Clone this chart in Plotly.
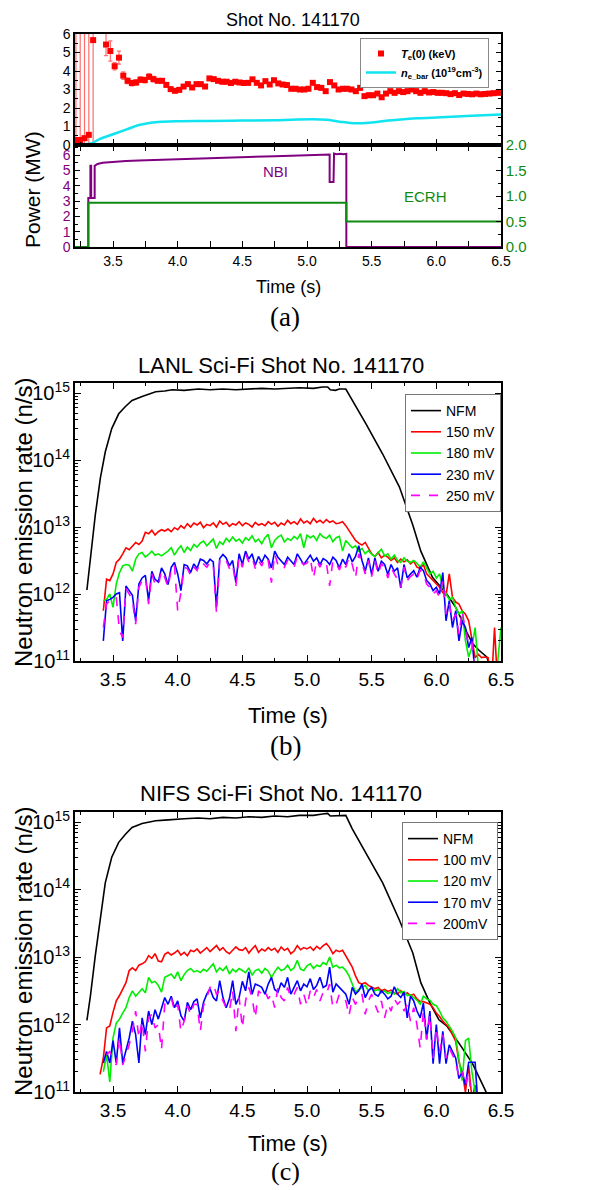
import plotly.graph_objects as go

W, H = 615, 1190
FONT = "Liberation Sans, Arial, sans-serif"
SERIF = "Liberation Serif, Times New Roman, serif"

# ---------------- panel (a) data ----------------
TE_T0, TE_DT = 3.213, 0.0333
te_vals = [0.27, 0.27, 0.37, 0.55, 5.67, None, None, 5.43, 5.08, 4.26,
           4.72, 3.75, 3.47, 3.35, 3.38, 3.53, 3.51, 3.69, 3.56, 3.47,
           3.47, 3.25, 3.02, 2.93, 2.98, 3.16, 3.29, 3.11, 3.29, 3.29,
           3.16, 3.60, 3.56, 3.47, 3.42, 3.42, 3.35, 3.42, 3.38, 3.35,
           3.36, 3.55, 3.36, 3.22, 3.45, 3.27, 3.50, 3.33, 3.27, 3.24,
           3.04, 3.04, 3.00, 3.00, 3.04, 3.36, 3.13, 3.09, 2.91, 3.40,
           3.22, 3.00, 3.04, 3.04, 3.00, 2.91, 3.09, 2.64, 2.69, 2.69,
           2.78, 2.58, 2.78, 2.91, 2.82, 2.91, 2.86, 2.91, 3.00, 2.91,
           2.82, 2.91, 2.84, 2.86, 2.82, 2.82, 2.80, 2.75, 2.80, 2.70,
           2.78, 2.76, 2.74, 2.78, 2.74, 2.76, 2.78, 2.80, 2.82]
te_err = ([10, 10, 10, 10, 10, 0, 0, 0.6, 0.55, 0.2, 0.35, 0.2]
          + [0.15] * 7 + [0.1] * 80)
te_t = [round(TE_T0 + TE_DT * i, 4) for i in range(len(te_vals))]

ne_t = [3.206, 3.30, 3.33, 3.40, 3.50, 3.60, 3.70, 3.77, 3.85, 3.98, 4.25, 4.50,
        4.75, 5.05, 5.15, 5.25, 5.38, 5.50, 5.60, 5.75, 5.85, 6.00, 6.23, 6.50]
ne_v = [0.04, 0.05, 0.08, 0.33, 0.58, 0.83, 1.08, 1.18, 1.24, 1.28, 1.30, 1.32,
        1.34, 1.39, 1.36, 1.26, 1.17, 1.22, 1.30, 1.39, 1.44, 1.48, 1.57, 1.65]

nbi_t = [3.206, 3.309, 3.309, 3.325, 3.325, 3.331, 3.331, 3.358, 3.358, 3.38, 3.42,
         3.50, 3.60, 3.70, 3.80, 4.00, 4.25, 4.50, 4.75, 5.00, 5.10, 5.175, 5.175,
         5.205, 5.209, 5.23, 5.26, 5.28, 5.304, 5.304, 6.50]
nbi_p = [0, 0, 3.2, 3.2, 5.3, 5.3, 3.2, 3.2, 5.3, 5.42, 5.5,
         5.56, 5.62, 5.65, 5.68, 5.72, 5.79, 5.86, 5.93, 5.99, 6.02, 6.04, 4.25,
         4.25, 6.1, 6.06, 6.09, 6.05, 6.08, 0, 0]

ecrh_t = [3.206, 3.309, 3.309, 5.304, 5.304, 6.50]
ecrh_p = [0, 0, 0.87, 0.87, 0.5, 0.5]

# ---------------- neutron data (log10 of n/s) ----------------
N_T0, N_DT, N_N = 3.400, 0.025, 125
n_t = [round(N_T0 + N_DT * i, 3) for i in range(N_N)]

# NFM, LANL panel
nfm_b_t = [3.298, 3.325, 3.363, 3.402, 3.44, 3.49, 3.544, 3.596, 3.647, 3.725, 3.83,
           3.90, 3.957, 4.05, 4.16, 4.25, 4.35, 4.45, 4.55, 4.65, 4.75, 4.85, 4.94,
           5.05, 5.12, 5.16, 5.18, 5.22, 5.25, 5.30, 5.35, 5.456, 5.585, 5.714,
           5.818, 5.88, 5.97, 6.08, 6.15, 6.20, 6.23, 6.28, 6.33, 6.39, 6.42]
nfm_b_v = [12.06, 12.54, 13.18, 13.73, 14.12, 14.47, 14.69, 14.80, 14.89, 14.95, 15.02,
           15.03, 15.05, 15.04, 15.06, 15.05, 15.06, 15.05, 15.06, 15.07, 15.06, 15.07, 15.08,
           15.07, 15.09, 15.09, 15.05, 15.04, 15.06, 15.06, 14.90, 14.54, 14.09, 13.60,
           13.03, 12.64, 12.25, 12.00, 11.80, 11.60, 11.45, 11.26, 11.16, 11.06, 10.90]

lanl_150 = [None, 11.75, 12.22, 12.20, 12.30, 12.47, 12.52, 12.60, 12.69, 12.66,
            12.72, 12.77, 12.74, 12.79, 12.92, 12.90, 12.95, 12.88, 12.93, 12.96,
            12.94, 12.97, 12.93, 12.99, 12.96, 13.02, 12.98, 13.05, 13.00, 13.06,
            13.03, 13.07, 12.99, 13.04, 13.02, 13.06, 13.00, 13.09, 13.04, 13.07,
            13.01, 13.05, 13.03, 13.08, 13.02, 13.06, 13.04, 13.00, 13.07, 13.03,
            13.05, 13.02, 13.08, 13.04, 13.07, 13.01, 13.06, 13.03, 13.10, 13.05,
            13.08, 13.04, 13.12, 13.06, 13.09, 13.05, 13.13, 13.07, 13.10, 13.06,
            13.11, 13.07, 13.09, 13.05, 13.06, 13.08, 13.02, 12.95, 12.87, 12.80,
            12.76, 12.73, 12.77, 12.68, 12.60, 12.56, 12.62, 12.54, 12.58, 12.55,
            12.50, 12.54, 12.47, 12.52, 12.48, 12.51, 12.45, 12.49, 12.40, 12.38,
            12.44, 12.30, 12.25, 12.20, 12.14, 12.10, 12.02, 11.98, 12.30, 11.95,
            11.88, 11.85, 11.75, 11.70, 11.60, 11.30, 11.05, 11.10, 11.05, 11.06,
            11.05, 10.60, 11.50, 10.60, None]
lanl_180 = [None, 11.90, 11.92, 12.00, 11.80, 12.15, 12.32, 12.42, 12.44, 12.43,
            12.34, 12.52, 12.60, 12.62, 12.55, 12.59, 12.64, 12.58, 12.60, 12.57,
            12.60, 12.64, 12.69, 12.58, 12.66, 12.72, 12.62, 12.70, 12.65, 12.74,
            12.70, 12.76, 12.79, 12.72, 12.77, 12.82, 12.68, 12.78, 12.74, 12.83,
            12.78, 12.85, 12.79, 12.82, 12.76, 12.84, 12.80, 12.87, 12.78, 12.82,
            12.75, 12.84, 12.89, 12.69, 12.80, 12.85, 12.88, 12.78, 12.83, 12.80,
            12.86, 12.82, 12.90, 12.69, 12.88, 12.84, 12.87, 12.80, 12.90, 12.85,
            12.83, 12.88, 12.78, 12.84, 12.86, 12.64, 12.80, 12.74, 12.69, 12.72,
            12.64, 12.68, 12.60, 12.65, 12.59, 12.56, 12.62, 12.67, 12.57, 12.60,
            12.52, 12.58, 12.50, 12.47, 12.54, 12.49, 12.47, 12.50, 12.46, 12.40,
            12.48, 12.38, 12.30, 12.34, 12.24, 12.30, 12.10, 12.00, 11.92, 11.95,
            11.80, 11.70, 11.75, 11.30, 11.06, 11.20, 11.50, 10.90, 10.60, 10.60,
            10.60, 10.60, 10.60, 11.00, 11.50]
lanl_230 = [None, 11.30, 11.90, 11.92, 11.95, 12.00, 12.02, 11.30, 12.12, 12.05,
            11.98, 11.60, 12.15, 12.24, 12.28, 11.90, 12.34, 12.22, 12.18, 12.39,
            12.30, 12.14, 12.40, 12.47, 12.30, 12.05, 12.44, 12.42, 12.32, 12.45,
            12.38, 12.52, 12.50, 12.45, 12.52, 12.48, 11.80, 12.53, 12.59, 12.54,
            12.42, 12.50, 12.17, 12.60, 12.44, 12.64, 12.52, 12.60, 12.43, 12.56,
            12.47, 12.58, 12.52, 12.39, 12.64, 12.55, 12.50, 12.44, 12.55, 12.49,
            12.44, 12.60, 12.52, 12.44, 12.51, 12.58, 12.49, 12.54, 12.44, 12.53,
            12.50, 12.44, 12.55, 12.50, 12.39, 12.52, 12.44, 12.60, 12.48, 12.56,
            12.72, 12.50, 12.34, 12.54, 12.29, 12.54, 12.34, 12.49, 12.44, 12.29,
            12.44, 12.34, 12.39, 12.09, 12.44, 12.24, 12.30, 12.35, 12.25, 12.40,
            12.35, 12.20, 12.15, 12.05, 12.10, 12.00, 12.32, 11.60, 11.90, 11.50,
            11.75, 11.30, 11.60, 11.50, 11.20, 11.35, 10.80, 10.60, None, None,
            None, None, None, None, None]
lanl_250 = [None, 11.50, 11.85, 11.90, 11.90, 11.95, 11.45, 11.35, 12.08, 12.00,
            11.90, 11.55, 12.10, 12.20, 12.25, 11.85, 12.30, 12.15, 12.12, 12.35,
            12.25, 12.10, 12.36, 12.43, 11.75, 12.02, 12.40, 12.38, 12.28, 12.40,
            12.35, 12.48, 12.45, 12.40, 12.48, 12.44, 11.72, 12.50, 12.55, 12.50,
            12.38, 12.45, 12.12, 12.55, 12.40, 12.60, 12.48, 12.55, 12.38, 12.50,
            12.42, 12.55, 12.50, 12.17, 12.60, 12.44, 12.47, 12.40, 12.50, 12.45,
            12.40, 12.56, 12.48, 12.44, 12.46, 12.54, 12.24, 12.50, 12.40, 12.50,
            12.46, 12.12, 12.50, 12.46, 12.36, 12.48, 12.40, 12.55, 12.44, 12.24,
            12.60, 12.46, 12.30, 12.50, 12.26, 12.50, 12.30, 12.45, 12.40, 12.24,
            12.40, 12.30, 12.22, 12.10, 12.40, 12.20, 12.26, 12.30, 12.22, 12.36,
            12.30, 12.15, 12.10, 12.00, 12.05, 11.95, 12.20, 11.70, 11.85, 11.60,
            11.70, 11.40, 11.75, 11.45, 11.25, 11.30, 10.80, 10.60, None, None,
            None, None, None, None, None]

# NFM, NIFS panel
nfm_c_t = [3.298, 3.325, 3.363, 3.402, 3.44, 3.49, 3.544, 3.596, 3.647, 3.725, 3.83,
           3.90, 3.957, 4.05, 4.16, 4.25, 4.35, 4.45, 4.55, 4.65, 4.75, 4.85, 4.94,
           5.05, 5.12, 5.16, 5.18, 5.22, 5.25, 5.30, 5.35, 5.456, 5.585, 5.714,
           5.818, 5.88, 5.95, 6.02, 6.08, 6.18, 6.23, 6.28, 6.33, 6.36, 6.39, 6.41]
nfm_c_v = [12.06, 12.42, 13.02, 13.60, 14.10, 14.48, 14.70, 14.82, 14.92, 14.98, 15.02,
           15.03, 15.04, 15.05, 15.06, 15.05, 15.07, 15.06, 15.08, 15.07, 15.09, 15.08, 15.10,
           15.10, 15.12, 15.13, 15.09, 15.09, 15.10, 15.10, 14.90, 14.54, 14.10, 13.55,
           13.06, 12.62, 12.32, 12.07, 11.98, 11.71, 11.57, 11.42, 11.22, 11.10, 11.00, 10.90]

nifs_100 = [11.26, 11.50, 11.95, 11.98, 12.18, 12.35, 12.43, 12.52, 12.62, 12.80,
            12.84, 12.80, 12.88, 12.90, 12.93, 13.02, 12.98, 13.05, 12.94, 12.93,
            13.04, 13.07, 13.03, 13.06, 13.10, 13.03, 13.07, 13.02, 13.10, 13.08,
            13.12, 13.06, 13.10, 13.14, 13.08, 13.12, 13.17, 13.10, 13.14, 13.08,
            13.05, 13.10, 13.15, 13.11, 13.10, 13.14, 13.06, 13.12, 13.17, 13.07,
            13.12, 13.09, 13.14, 13.10, 13.13, 13.07, 13.15, 13.10, 13.13, 13.05,
            13.09, 13.17, 13.11, 13.14, 13.12, 13.15, 13.10, 13.16, 13.12, 13.17,
            13.20, 13.14, 13.05, 13.10, 13.08, 13.10, 13.02, 12.95, 12.85, 12.72,
            12.62, 12.60, 12.62, 12.58, 12.56, 12.53, 12.55, 12.50, 12.52, 12.49,
            12.51, 12.47, 12.45, 12.50, 12.44, 12.47, 12.43, 12.45, 12.38, 12.34,
            12.34, 12.32, 12.30, 12.25, 12.17, 12.12, 12.05, 12.00, 11.95, 11.85,
            11.75, 11.44, 11.30, 11.00, 11.40, 10.90, 11.10, 10.60, 10.60, None,
            None, None, None, None, None]
nifs_120 = [None, 11.30, 11.55, 11.15, 11.80, 12.02, 12.08, 12.17, 12.25, 12.40,
            12.50, 12.42, 12.47, 12.53, 12.47, 12.70, 12.62, 12.64, 12.58, 12.48,
            12.70, 12.72, 12.75, 12.68, 12.78, 12.65, 12.74, 12.80, 12.83, 12.78,
            12.80, 12.77, 12.82, 12.79, 12.85, 12.90, 12.78, 12.84, 12.80, 12.86,
            12.75, 12.82, 12.78, 12.83, 12.80, 12.77, 12.84, 12.73, 12.80, 12.82,
            12.76, 12.83, 12.79, 12.70, 12.78, 12.85, 12.80, 12.82, 12.88, 12.80,
            12.84, 12.95, 12.82, 12.80, 12.87, 12.90, 12.83, 12.88, 12.86, 12.92,
            12.89, 13.00, 12.85, 12.88, 12.84, 12.85, 12.80, 12.72, 12.60, 12.48,
            12.52, 12.55, 12.58, 12.50, 12.54, 12.50, 12.52, 12.47, 12.50, 12.46,
            12.48, 12.45, 12.53, 12.47, 12.49, 12.43, 12.44, 12.40, 12.36, 12.30,
            12.42, 12.38, 12.36, 12.30, 12.28, 12.20, 12.10, 12.05, 11.98, 11.90,
            11.80, 11.45, 11.17, 11.76, 11.80, 11.30, 11.00, 10.70, None, None,
            None, None, None, None, None]
nifs_170 = [None, 11.43, 11.60, 11.43, 11.76, 11.43, 11.95, 11.43, 11.63, 11.80,
            12.05, 11.85, 11.43, 12.10, 11.85, 12.20, 12.00, 12.22, 12.08, 12.25,
            12.40, 12.30, 12.42, 12.25, 12.35, 12.13, 12.05, 12.33, 12.22, 12.34,
            12.38, 12.10, 12.33, 12.45, 12.53, 12.40, 12.35, 12.65, 12.40, 12.25,
            12.38, 12.65, 12.30, 12.40, 12.64, 12.50, 12.78, 12.45, 12.60, 12.58,
            12.55, 12.45, 12.60, 12.70, 12.52, 12.48, 12.62, 12.55, 12.70, 12.45,
            12.55, 12.65, 12.50, 12.60, 12.56, 12.68, 12.52, 12.58, 12.70, 12.55,
            12.58, 12.85, 12.48, 12.60, 12.55, 12.50, 12.45, 12.30, 12.55, 12.45,
            12.50, 12.60, 12.40, 12.50, 12.55, 12.45, 12.42, 12.50, 12.45, 12.38,
            12.42, 12.56, 12.45, 12.40, 12.48, 12.10, 12.42, 12.35, 12.20, 12.10,
            12.32, 11.78, 12.20, 11.42, 12.00, 11.42, 11.90, 11.42, 11.70, 11.60,
            11.50, 11.20, 11.30, 11.10, 11.44, 11.44, 11.44, 10.70, None, None,
            None, None, None, None, None]
nifs_200 = [None, None, 11.55, 11.60, 11.50, 11.40, 11.80, 11.40, 11.55, 11.70,
            11.90, 12.20, 11.80, 12.05, 11.60, 12.10, 12.15, 11.95, 12.00, 11.63,
            12.30, 12.35, 12.40, 12.20, 12.30, 11.90, 12.05, 12.28, 12.15, 12.30,
            12.30, 11.90, 12.28, 12.40, 12.55, 12.60, 12.45, 12.50, 12.35, 12.25,
            12.20, 12.50, 11.90, 12.40, 11.95, 12.35, 12.55, 12.40, 12.10, 12.50,
            12.45, 12.50, 12.38, 12.45, 12.25, 12.55, 12.40, 12.35, 12.55, 12.40,
            12.45, 12.55, 12.30, 12.45, 12.28, 12.50, 12.40, 12.52, 12.35, 12.48,
            12.45, 12.60, 12.25, 12.30, 12.45, 12.40, 12.35, 12.13, 12.40, 12.30,
            12.40, 12.45, 12.15, 12.35, 12.45, 12.30, 12.18, 12.35, 12.10, 12.30,
            12.20, 12.38, 12.30, 12.35, 12.20, 12.30, 12.05, 12.25, 12.00, 11.65,
            12.20, 11.78, 12.15, 11.50, 11.95, 11.60, 11.85, 11.50, 11.65, 11.55,
            11.45, 11.20, 11.30, 11.10, 11.30, 10.80, None, None, None, None,
            None, None, None, None, None]


def lin(v):
    return [None if x is None else 10 ** x for x in v]


# ---------------- layout geometry (paper fractions) ----------------
def px_x(x):
    return x / W


def px_y(y):
    return 1 - y / H


XDOM = [px_x(75), px_x(501)]
XR = [3.206, 6.5]

fig = go.Figure()

# panel (a) top
fig.add_trace(go.Scatter(
    x=te_t, y=te_vals, mode="markers", name="<b><i>T</i><sub>e</sub>(0) (keV)</b>",
    marker=dict(symbol="square", size=6, color="#FF0000"),
    error_y=dict(type="data", array=te_err, visible=True, color="rgba(255,60,60,0.75)",
                 thickness=1.2, width=2),
    xaxis="x", yaxis="y", legend="legend"))
fig.add_trace(go.Scatter(
    x=ne_t, y=ne_v, mode="lines", line=dict(color="#10E4F0", width=2.5, shape="spline"),
    name="<b><i>n</i><sub>e_bar</sub> (10<sup>19</sup>cm<sup>-3</sup>)</b>",
    xaxis="x", yaxis="y", legend="legend"))

# panel (a) bottom
fig.add_trace(go.Scatter(x=nbi_t, y=nbi_p, mode="lines", line=dict(color="#800080", width=2),
                         showlegend=False, xaxis="x2", yaxis="y2"))
fig.add_trace(go.Scatter(x=ecrh_t, y=ecrh_p, mode="lines", line=dict(color="#118A11", width=2),
                         showlegend=False, xaxis="x2", yaxis="y3"))

# panel (b)
series_b = [("NFM", nfm_b_t, nfm_b_v, "#000000", "solid"),
            ("150 mV", n_t, lanl_150, "#FF0000", "solid"),
            ("180 mV", n_t, lanl_180, "#00EE00", "solid"),
            ("230 mV", n_t, lanl_230, "#0000FF", "solid"),
            ("250 mV", n_t, lanl_250, "#FF00FF", "dash")]
for name, tx, vy, col, dash in series_b:
    fig.add_trace(go.Scatter(x=tx, y=lin(vy), mode="lines", name=name,
                             line=dict(color=col, width=1.6, dash=dash),
                             connectgaps=False, xaxis="x3", yaxis="y4", legend="legend2"))

series_c = [("NFM", nfm_c_t, nfm_c_v, "#000000", "solid"),
            ("100 mV", n_t, nifs_100, "#FF0000", "solid"),
            ("120 mV", n_t, nifs_120, "#00EE00", "solid"),
            ("170 mV", n_t, nifs_170, "#0000FF", "solid"),
            ("200mV", n_t, nifs_200, "#FF00FF", "dash")]
for name, tx, vy, col, dash in series_c:
    fig.add_trace(go.Scatter(x=tx, y=lin(vy), mode="lines", name=name,
                             line=dict(color=col, width=1.6, dash=dash),
                             connectgaps=False, xaxis="x4", yaxis="y5", legend="legend3"))

AX = dict(showline=True, linecolor="black", linewidth=1.5, showgrid=False, zeroline=False,
          ticks="inside", tickcolor="black")


def xaxis(dom_anchor, show_labels, size, mirror="allticks"):
    return dict(AX, domain=XDOM, range=XR, anchor=dom_anchor, mirror=mirror,
                tickmode="linear", tick0=3.5, dtick=0.5, tickformat=".1f", ticklen=6,
                minor=dict(ticks="inside", dtick=0.25, ticklen=3, tickcolor="black"),
                showticklabels=show_labels, tickfont=dict(size=size, family=FONT, color="black"))


log_y = dict(AX, type="log", mirror="allticks", range=[11, 15.15], dtick=1,
             exponentformat="power", ticklen=6,
             minor=dict(ticks="inside", dtick="D1", ticklen=3, tickcolor="black"),
             tickfont=dict(size=16, family=FONT, color="black"))

fig.update_layout(
    width=W, height=H, paper_bgcolor="white", plot_bgcolor="white",
    margin=dict(l=0, r=0, t=0, b=0, autoexpand=False),
    font=dict(family=FONT, color="black"),
    xaxis=dict(xaxis("y", False, 14), mirror=True),
    yaxis=dict(AX, domain=[px_y(145), px_y(34)], anchor="x", range=[0, 6], dtick=1,
               mirror="allticks", ticklen=5,
               minor=dict(ticks="inside", dtick=0.5, ticklen=3, tickcolor="black"),
               tickfont=dict(size=14, family=FONT, color="black")),
    xaxis2=dict(xaxis("y2", True, 14), matches="x"),
    yaxis2=dict(AX, domain=[px_y(247), px_y(145)], anchor="x2", range=[0, 6.66], dtick=1,
                ticklen=5, tickcolor="black",
                minor=dict(ticks="inside", dtick=0.5, ticklen=3, tickcolor="black"),
                tickfont=dict(size=14, family=FONT, color="#800080")),
    yaxis3=dict(AX, overlaying="y2", side="right", anchor="x2", range=[0, 2.0], dtick=0.5,
                tickformat=".1f", ticklen=5,
                minor=dict(ticks="inside", dtick=0.25, ticklen=3, tickcolor="black"),
                tickfont=dict(size=15, family=FONT, color="#118A11")),
    xaxis3=xaxis("y4", True, 19),
    yaxis4=dict(log_y, domain=[px_y(661), px_y(383)], anchor="x3"),
    xaxis4=xaxis("y5", True, 19),
    yaxis5=dict(log_y, domain=[px_y(1092), px_y(812)], anchor="x4"),
    legend=dict(x=px_x(360), y=px_y(38), xanchor="left", yanchor="top", bgcolor="white",
                bordercolor="#888888", borderwidth=1, font=dict(size=11, family=FONT),
                tracegroupgap=0, itemwidth=30),
    legend2=dict(x=px_x(405), y=px_y(394), xanchor="left", yanchor="top", bgcolor="white",
                 bordercolor="#777777", borderwidth=1, font=dict(size=14, family=FONT),
                 tracegroupgap=0, itemwidth=30),
    legend3=dict(x=px_x(402), y=px_y(822), xanchor="left", yanchor="top", bgcolor="white",
                 bordercolor="#777777", borderwidth=1, font=dict(size=14, family=FONT),
                 tracegroupgap=0, itemwidth=30),
)

ann = []


def A(text, x, y, size, family=FONT, color="black", angle=0, xref="paper", yref="paper"):
    ann.append(dict(text=text, x=x, y=y, xref=xref, yref=yref, showarrow=False,
                    font=dict(size=size, family=family, color=color), textangle=angle,
                    xanchor="center", yanchor="middle"))


A("Shot No. 141170", px_x(293), px_y(20), 18)
A("Power (MW)", px_x(33), px_y(190), 21, angle=-90)
A("NBI", 4.76, 4.9, 15, color="#800080", xref="x2", yref="y2")
A("ECRH", 5.92, 3.3, 15, color="#118A11", xref="x2", yref="y2")
A("Time (s)", px_x(288), px_y(287), 18)
A("(a)", px_x(285), px_y(317), 27, family=SERIF)

A("LANL Sci-Fi Shot No. 141170", px_x(281), px_y(365), 22)
A("Neutron emission rate (n/s)", px_x(23), px_y(523), 24, angle=-90)
A("Time (s)", px_x(288), px_y(715), 22)
A("(b)", px_x(285), px_y(746), 27, family=SERIF)

A("NIFS Sci-Fi Shot No. 141170", px_x(281), px_y(793), 22)
A("Neutron emission rate (n/s)", px_x(23), px_y(952), 24, angle=-90)
A("Time (s)", px_x(288), px_y(1143), 22)
A("(c)", px_x(285), px_y(1171), 26, family=SERIF)

fig.update_layout(annotations=ann)
fig.write_html("out.html", config={"displayModeBar": False},
               post_script="document.body.style.margin='0';document.body.style.padding='0';")
